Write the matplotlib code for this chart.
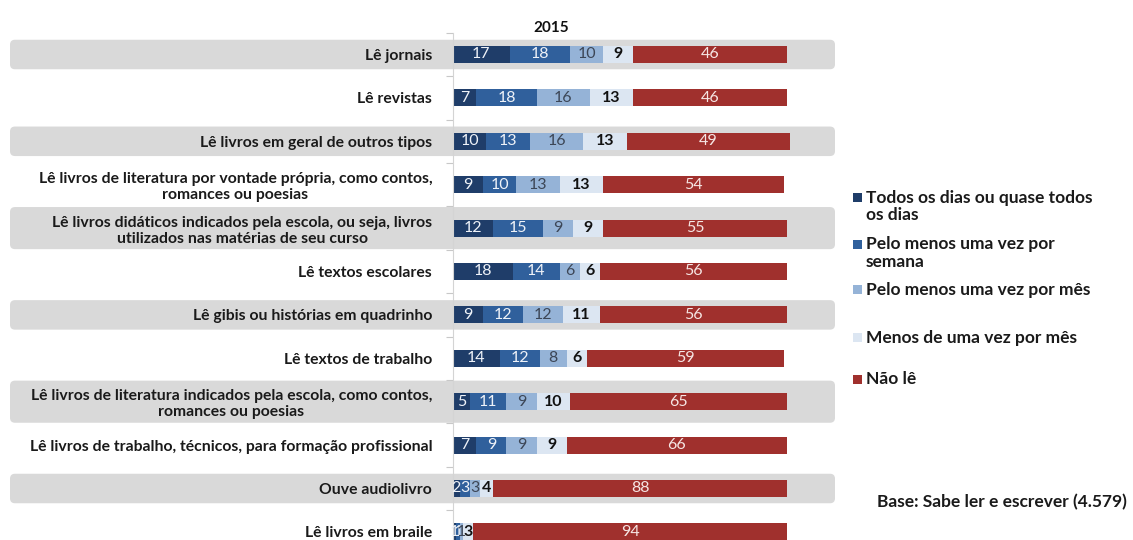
import matplotlib
matplotlib.use("Agg")
import matplotlib.pyplot as plt
from matplotlib.patches import FancyBboxPatch, Rectangle

# Frequency of reading by type of material, 2015 (%)
categories = [
    "Lê jornais",
    "Lê revistas",
    "Lê livros em geral de outros tipos",
    "Lê livros de literatura por vontade própria, como contos,\nromances ou poesias",
    "Lê livros didáticos indicados pela escola, ou seja, livros\nutilizados nas matérias de seu curso",
    "Lê textos escolares",
    "Lê gibis ou histórias em quadrinho",
    "Lê textos de trabalho",
    "Lê livros de literatura indicados pela escola, como contos,\nromances ou poesias",
    "Lê livros de trabalho, técnicos, para formação profissional",
    "Ouve audiolivro",
    "Lê livros em braile",
]
todos_dias = [17, 7, 10, 9, 12, 18, 9, 14, 5, 7, 2, 1]
semana = [18, 18, 13, 10, 15, 14, 12, 12, 11, 9, 3, 1]
mes = [10, 16, 16, 13, 9, 6, 12, 8, 9, 9, 3, 1]
menos_mes = [9, 13, 13, 13, 9, 6, 11, 6, 10, 9, 4, 3]
nao_le = [46, 46, 49, 54, 55, 56, 56, 59, 65, 66, 88, 94]

series_names = [
    "Todos os dias ou quase todos\nos dias",
    "Pelo menos uma vez por\nsemana",
    "Pelo menos uma vez por mês",
    "Menos de uma vez por mês",
    "Não lê",
]
year_label = "2015"
base_note = "Base: Sabe ler e escrever (4.579)"

colors = ["#1f3d69", "#30609c", "#95b3d7", "#dce6f2", "#a0302d"]
label_colors = ["#eef2f8", "#eef2f8", "#3c4656", "#111111", "#f6e6e4"]
label_weights = ["normal", "normal", "normal", "bold", "normal"]

FONT = "Lato"
W, H = 1133, 540
fig = plt.figure(figsize=(W / 100, H / 100), dpi=100)

# pixel-space background layer for row bands and legend
bg = fig.add_axes([0, 0, 1, 1], zorder=0)
bg.set_xlim(0, W)
bg.set_ylim(H, 0)
bg.axis("off")

# main bar axes
px_per_unit = 3.34
ax_left, ax_right = 453, 835
row_px = 43.4
top_px = 54.5 - row_px / 2
bot_px = top_px + row_px * len(categories)
ax = fig.add_axes([ax_left / W, (H - bot_px) / H, (ax_right - ax_left) / W,
                   (bot_px - top_px) / H], zorder=1)
ax.patch.set_alpha(0)
ax.set_xlim(0, (ax_right - ax_left) / px_per_unit)
ax.set_ylim(len(categories) - 0.5, -0.5)

series = [todos_dias, semana, mes, menos_mes, nao_le]
ypos = list(range(len(categories)))
left = [0] * len(categories)
for vals, col, lc, lw in zip(series, colors, label_colors, label_weights):
    ax.barh(ypos, vals, left=left, height=0.39, color=col, edgecolor="none")
    for y, v, l0 in zip(ypos, vals, left):
        ax.text(l0 + v / 2, y, str(v), ha="center", va="center", fontsize=11.5,
                color=lc, fontweight=lw, family=FONT)
    left = [a + b for a, b in zip(left, vals)]

# axis styling
for s in ["top", "right", "bottom"]:
    ax.spines[s].set_visible(False)
ax.spines["left"].set_color("#d4d4d4")
ax.spines["left"].set_linewidth(0.8)
ax.set_xticks([])
ax.set_yticks(ypos)
ax.set_yticklabels(categories, fontsize=11.3, family=FONT, fontweight="bold",
                   color="#1a1a1a", multialignment="center", linespacing=1.2)
ax.tick_params(axis="y", length=0, pad=15)
ax.set_yticks([y + 0.5 for y in ypos[:-1]] + [-0.5], minor=True)
ax.tick_params(axis="y", which="minor", length=5, color="#c8c8c8", width=0.8)

# alternating gray row bands behind labels and bars
fig.canvas.draw()
for i, cat in enumerate(categories):
    if i % 2:
        continue
    frac = 0.97 if "\n" in cat else 0.68
    y_top = H - ax.transData.transform((0, i - frac / 2))[1]
    y_bot = H - ax.transData.transform((0, i + frac / 2))[1]
    y0, y1 = sorted([y_top, y_bot])
    band = FancyBboxPatch((10, y0), 825, y1 - y0,
                          boxstyle="round,pad=0,rounding_size=5",
                          facecolor="#d9d9d9", edgecolor="none")
    bg.add_patch(band)

# year heading
bg.text(551, 28, year_label, ha="center", va="center", fontsize=11,
        fontweight="bold", family=FONT, color="#111111")

# legend
legend_y = [198, 245, 290, 338, 380]
for name, col, y in zip(series_names, colors, legend_y):
    bg.add_patch(Rectangle((853, y - 5), 9, 9, facecolor=col, edgecolor="none"))
    bg.text(866, y - 8.5, name, ha="left", va="top", fontsize=12.5, family=FONT,
            fontweight="bold", color="#1a1a1a", linespacing=1.15)

bg.text(1127, 502, base_note, ha="right", va="center", fontsize=12.5,
        family=FONT, fontweight="bold", color="#1a1a1a")

fig.savefig("out.png", dpi=100)
